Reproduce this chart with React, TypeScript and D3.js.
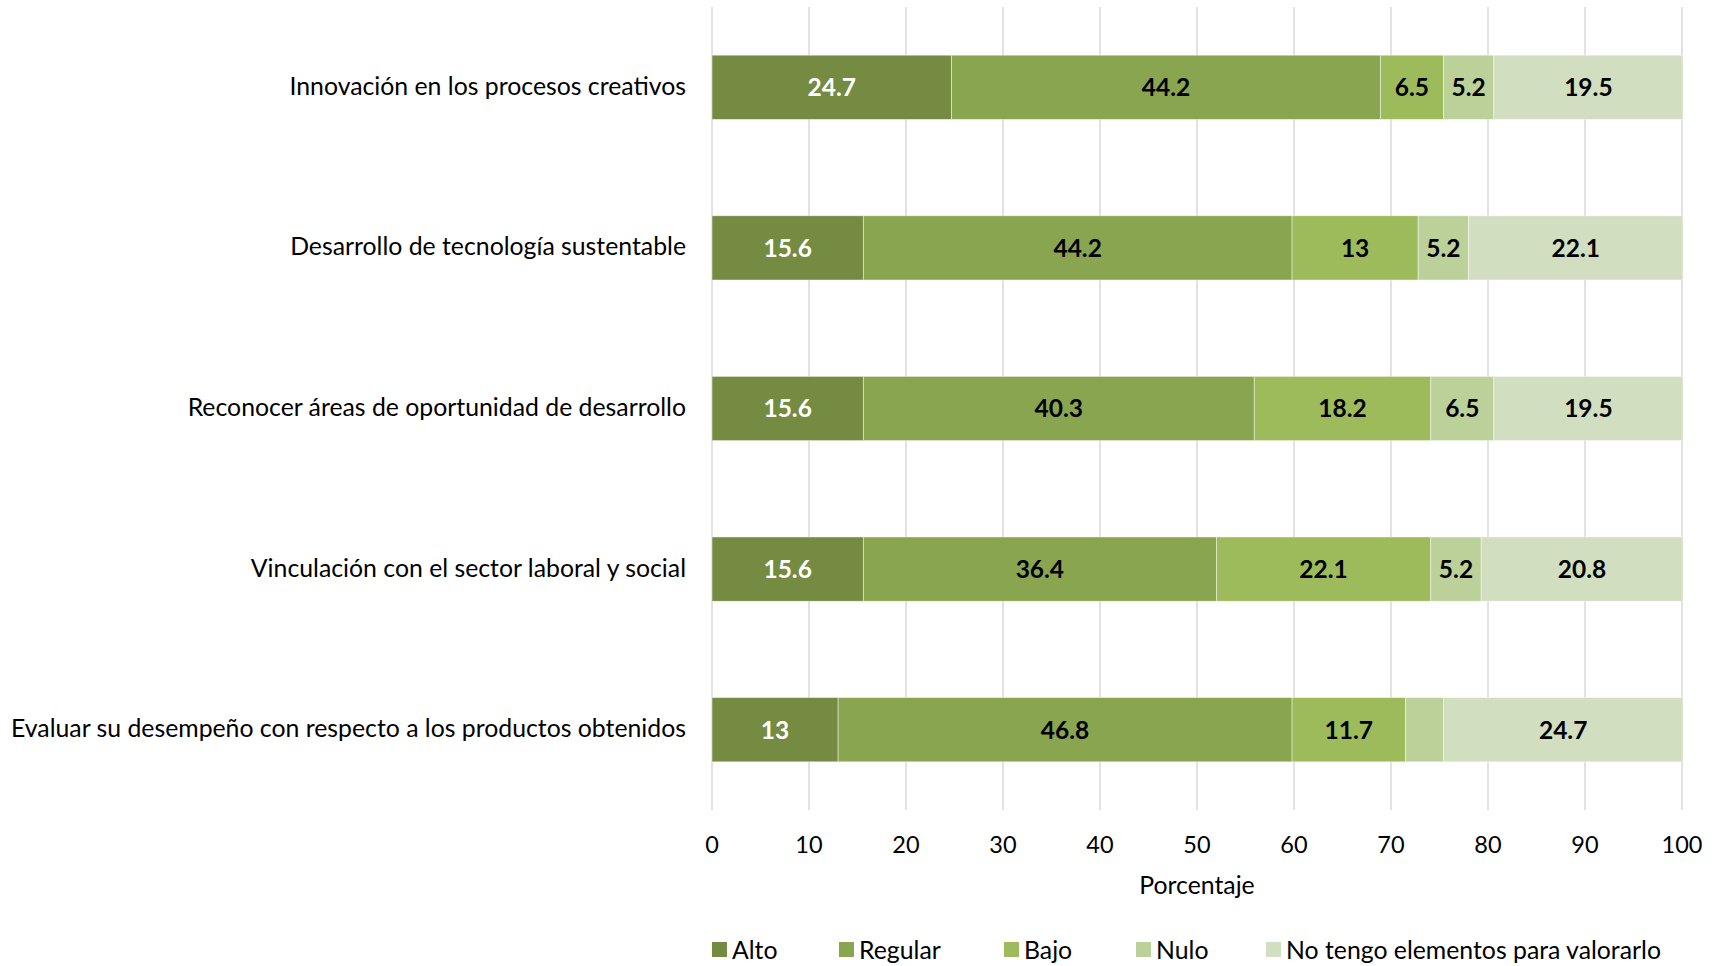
import React from "react";
import * as d3 from "d3";

const categories = [
  "Innovación en los procesos creativos",
  "Desarrollo de tecnología sustentable",
  "Reconocer áreas de oportunidad de desarrollo",
  "Vinculación con el sector laboral y social",
  "Evaluar su desempeño con respecto a los productos obtenidos",
];
const seriesNames = ["Alto", "Regular", "Bajo", "Nulo", "No tengo elementos para valorarlo"];
const alto = [24.7, 15.6, 15.6, 15.6, 13];
const regular = [44.2, 44.2, 40.3, 36.4, 46.8];
const bajo = [6.5, 13, 18.2, 22.1, 11.7];
const nulo = [5.2, 5.2, 6.5, 5.2, 3.9];
const noTengo = [19.5, 22.1, 19.5, 20.8, 24.7];
const xTicks = [0, 10, 20, 30, 40, 50, 60, 70, 80, 90, 100];
const colors = ["#758B42", "#8AA54F", "#9DBB5A", "#BCD09A", "#D1DEBF"];
const labelColors = ["#FFFFFF", "#000000", "#000000", "#000000", "#000000"];

const W = 1719, H = 966;
const M = { left: 712, right: 1682, top: 7, bottom: 810 };
const FONT = "Lato, 'Open Sans', sans-serif";

export default function App() {
  const seriesValues = [alto, regular, bajo, nulo, noTengo];
  const x = d3.scaleLinear().domain([0, 100]).range([M.left, M.right]);
  const y = d3.scaleBand<string>().domain(categories).range([M.top, M.bottom]).paddingInner(0.6).paddingOuter(0.3);
  const stackData = categories.map((c, i) => {
    const o: any = { cat: c };
    seriesNames.forEach((s, j) => (o[s] = seriesValues[j][i]));
    return o;
  });
  const stacked = d3.stack<any>().keys(seriesNames)(stackData);
  const legendX = [712, 839, 1004, 1136, 1266];

  return (
    <svg width={W} height={H} style={{ position: "absolute", left: 0, top: 0, background: "#fff" }} fontFamily={FONT}>
      {xTicks.map((t) => (
        <line key={t} x1={x(t)} x2={x(t)} y1={M.top} y2={M.bottom} stroke="#D9D9D9" strokeWidth={1.5} />
      ))}
      {stacked.map((layer, j) => (
        <g key={layer.key}>
          {layer.map((d, i) => (
            <rect
              key={i}
              x={x(d[0])}
              y={y(categories[i])}
              width={x(d[1]) - x(d[0])}
              height={y.bandwidth()}
              fill={colors[j]}
              stroke="#FFFFFF"
              strokeOpacity={0.6}
              strokeWidth={0.75}
            />
          ))}
          {layer.map((d, i) => {
            const v = d[1] - d[0];
            if (v < 4.5) return null;
            return (
              <text
                key={"t" + i}
                x={(x(d[0]) + x(d[1])) / 2}
                y={(y(categories[i]) as number) + y.bandwidth() / 2}
                dy="0.36em"
                textAnchor="middle"
                fontWeight="bold"
                fontSize={24.5}
                fill={labelColors[j]}
              >
                {String(+v.toFixed(1))}
              </text>
            );
          })}
        </g>
      ))}
      {categories.map((c) => (
        <text key={c} x={M.left - 26} y={(y(c) as number) + y.bandwidth() / 2} dy="0.3em" textAnchor="end" fontSize={24.8} fill="#000">
          {c}
        </text>
      ))}
      {xTicks.map((t) => (
        <text key={"x" + t} x={x(t)} y={845} dy="0.35em" textAnchor="middle" fontSize={23.5} fill="#000">
          {t}
        </text>
      ))}
      <text x={(M.left + M.right) / 2} y={885} dy="0.35em" textAnchor="middle" fontSize={24.8} fill="#000">
        Porcentaje
      </text>
      {seriesNames.map((s, j) => (
        <g key={s}>
          <rect x={legendX[j]} y={942} width={15} height={15} fill={colors[j]} />
          <text x={legendX[j] + 20} y={950} dy="0.35em" fontSize={24.8} fill="#000">
            {s}
          </text>
        </g>
      ))}
    </svg>
  );
}
